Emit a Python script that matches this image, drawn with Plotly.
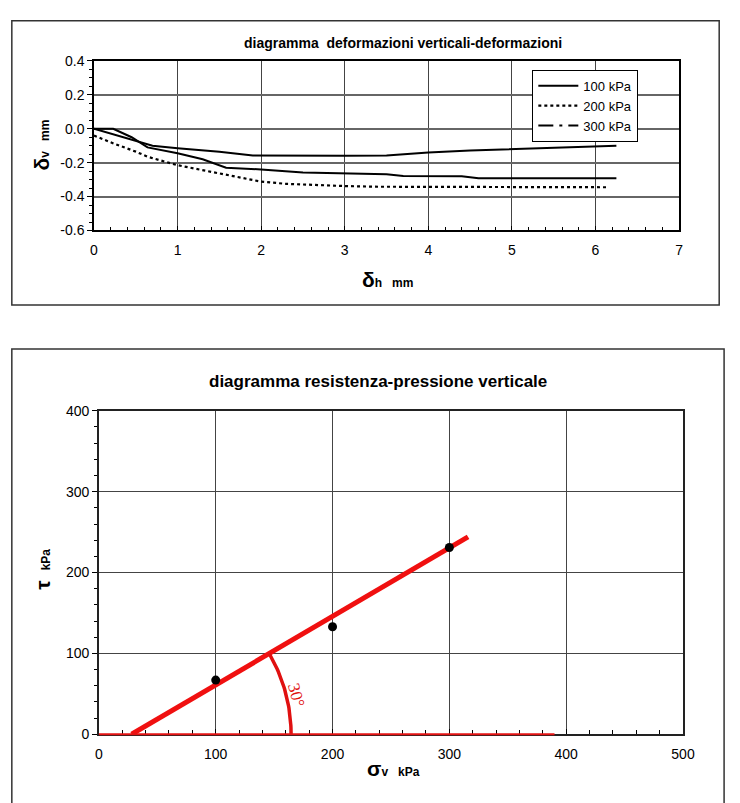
import numpy as np
import plotly.graph_objects as go

# ---- top chart data: vertical vs horizontal deformation ----
dh_100 = [0, 0.35, 0.7, 1.0, 1.5, 1.9, 2.5, 3.0, 3.5, 4.0, 4.5, 5.0, 5.5, 6.0, 6.25]
dv_100 = [0, -0.05, -0.10, -0.115, -0.135, -0.158, -0.16, -0.16, -0.158, -0.14, -0.128, -0.12, -0.113, -0.105, -0.10]

dh_200 = [0, 0.25, 0.5, 0.64, 1.0, 1.3, 1.58, 2.0, 2.3, 2.6, 3.0, 3.4, 4.0, 5.0, 6.0, 6.15]
dv_200 = [-0.04, -0.09, -0.135, -0.165, -0.215, -0.245, -0.27, -0.312, -0.325, -0.332, -0.338, -0.342, -0.342, -0.342, -0.343, -0.345]

dh_300 = [0, 0.23, 0.45, 0.64, 1.0, 1.3, 1.58, 2.0, 2.5, 3.0, 3.5, 3.7, 4.0, 4.4, 4.6, 5.0, 5.5, 6.0, 6.25]
dv_300 = [0, 0, -0.05, -0.11, -0.145, -0.18, -0.23, -0.24, -0.258, -0.265, -0.268, -0.278, -0.278, -0.28, -0.292, -0.293, -0.293, -0.292, -0.292]

y1_ticks = [0.4, 0.2, 0.0, -0.2, -0.4, -0.6]
y1_labels = ["0.4", "0.2", "0.0", "-0.2", "-0.4", "-0.6"]

# ---- bottom chart data: shear strength vs vertical pressure ----
sigma_v = [100, 200, 300]
tau = [67, 133, 231]
fit_x = [28, 316]
fit_y = [0, 244]
red_base_end = 390
phi_label = "30°"

W, H = 740, 803
def px(x):
    return x / W
def py(y):
    return 1 - y / H

# bottom plot area in pixels
X2_L, X2_R, Y2_T, Y2_B = 97, 694, 411, 741
X2_MAX, Y2_MAX = 500, 400

fig = go.Figure()

# top chart traces
fig.add_trace(go.Scatter(x=dh_100, y=dv_100, mode="lines", name="100 kPa",
                         line=dict(color="black", width=2), xaxis="x", yaxis="y"))
fig.add_trace(go.Scatter(x=dh_200, y=dv_200, mode="lines", name="200 kPa",
                         line=dict(color="black", width=2.2, dash="dot"), xaxis="x", yaxis="y"))
fig.add_trace(go.Scatter(x=dh_300, y=dv_300, mode="lines", name="300 kPa", showlegend=False,
                         line=dict(color="black", width=2), xaxis="x", yaxis="y"))
fig.add_trace(go.Scatter(x=[None], y=[None], mode="lines", name="300 kPa",
                         line=dict(color="black", width=2, dash="longdashdot"), xaxis="x", yaxis="y"))

# bottom chart traces
fig.add_trace(go.Scatter(x=fit_x, y=fit_y, mode="lines", showlegend=False,
                         line=dict(color="#f01010", width=5), xaxis="x2", yaxis="y2"))
fig.add_trace(go.Scatter(x=sigma_v, y=tau, mode="markers", showlegend=False,
                         marker=dict(color="black", size=9), xaxis="x2", yaxis="y2"))

# angle arc (pixel-isotropic around the line's x-intercept)
px_per_x = (X2_R - X2_L) / X2_MAX
px_per_y = (Y2_B - Y2_T) / Y2_MAX
a0 = np.degrees(np.arctan2((fit_y[1] - fit_y[0]) * px_per_y, (fit_x[1] - fit_x[0]) * px_per_x))
ang = np.radians(np.linspace(a0, 0, 40))
r = 163
arc_x = fit_x[0] + r * np.cos(ang) / px_per_x
arc_y = r * np.sin(ang) / px_per_y
fig.add_trace(go.Scatter(x=arc_x, y=arc_y, mode="lines", showlegend=False,
                         line=dict(color="#e01010", width=3.5), xaxis="x2", yaxis="y2"))

tickfont = dict(family="Liberation Sans, Arial", size=14, color="black")

fig.update_layout(
    width=W, height=H, margin=dict(l=0, r=0, t=0, b=0),
    paper_bgcolor="white", plot_bgcolor="white",
    font=dict(family="Liberation Sans, Arial", color="black"),
    legend=dict(x=px(540), y=py(63), xanchor="left", yanchor="top",
                bgcolor="white", bordercolor="black", borderwidth=1,
                font=dict(family="Liberation Sans, Arial", size=13),
                tracegroupgap=0, itemwidth=40),
    xaxis=dict(domain=[px(92), px(690)], range=[0, 7], dtick=1, anchor="y",
               showgrid=True, gridcolor="#444", gridwidth=1,
               showline=True, linecolor="black", linewidth=1.5, mirror=True,
               ticks="inside", ticklen=5, tickcolor="black",
               minor=dict(dtick=0.2, ticks="inside", ticklen=4, tickcolor="black"),
               tickfont=tickfont, zeroline=False, ticklabelstandoff=6),
    yaxis=dict(domain=[py(227), py(54)], range=[-0.6, 0.4], tickvals=y1_ticks, ticktext=y1_labels,
               anchor="x",
               showgrid=True, gridcolor="#666", gridwidth=1.5,
               showline=True, linecolor="black", linewidth=1.5, mirror=True,
               ticks="outside", ticklen=5, tickcolor="black",
               minor=dict(dtick=0.05, ticks="outside", ticklen=3, tickcolor="black"),
               tickfont=tickfont, zeroline=False),
    xaxis2=dict(domain=[px(X2_L), px(X2_R)], range=[0, X2_MAX], dtick=100, anchor="y2",
                showgrid=True, gridcolor="#444", gridwidth=1, layer="below traces",
                showline=True, linecolor="#222", linewidth=1.5, mirror=True,
                ticks="inside", ticklen=5, tickcolor="black",
                minor=dict(dtick=20, ticks="inside", ticklen=4, tickcolor="black"),
                tickfont=tickfont, zeroline=False, ticklabelstandoff=6),
    yaxis2=dict(domain=[py(Y2_B), py(Y2_T)], range=[0, Y2_MAX], dtick=100, anchor="x2",
                showgrid=True, gridcolor="#444", gridwidth=1, layer="below traces",
                showline=True, linecolor="#222", linewidth=1.5, mirror=True,
                ticks="outside", ticklen=5, tickcolor="black",
                minor=dict(dtick=20, ticks="outside", ticklen=3, tickcolor="black"),
                tickfont=tickfont, zeroline=False),
)

# red base line along the sigma axis (drawn above the axis line)
fig.add_shape(type="line", xref="paper", yref="paper", layer="above",
              x0=px(X2_L), x1=px(X2_L + red_base_end * px_per_x), y0=py(Y2_B), y1=py(Y2_B),
              line=dict(color="#e41414", width=2))

# outer boxes
fig.add_shape(type="rect", xref="paper", yref="paper", x0=px(8), x1=px(731), y0=py(303), y1=py(13),
              line=dict(color="#333", width=1.5))
fig.add_shape(type="rect", xref="paper", yref="paper", x0=px(8), x1=px(736), y0=py(812), y1=py(348),
              line=dict(color="#333", width=1.5))

ann_font = dict(family="Liberation Sans, Arial", color="black")
def note(text, x, y, size, angle=0):
    fig.add_annotation(text=text, xref="paper", yref="paper", x=px(x), y=py(y),
                       xanchor="center", yanchor="middle", textangle=angle, showarrow=False,
                       font=dict(size=size, **ann_font))

# titles
note("<b>diagramma  deformazioni verticali-deformazioni</b>", 408, 36, 14)
note("<b>diagramma resistenza-pressione verticale</b>", 382, 381, 17)
# axis titles
note("<b><span style='font-size:21px'>δ</span><span style='font-size:12px'>v&nbsp;&nbsp; mm</span></b>", 38, 140, 12, -90)
note("<b><span style='font-size:21px'>δ</span><span style='font-size:12px'>h&nbsp;&nbsp; mm</span></b>", 392, 277, 12)
note("<b><span style='font-size:21px'>τ</span><span style='font-size:12px'>&nbsp;&nbsp; kPa</span></b>", 39, 573, 12, -90)
note("<b><span style='font-size:21px'>σ</span><span style='font-size:12px'>v&nbsp;&nbsp; kPa</span></b>", 398, 776, 12)

# angle label
fig.add_annotation(text=phi_label, xref="x2", yref="y2", x=169, y=48, textangle=75, showarrow=False,
                   xanchor="center", yanchor="middle",
                   font=dict(family="Liberation Serif, Times New Roman", size=17, color="#e01010"))

fig.write_html("out.html")
